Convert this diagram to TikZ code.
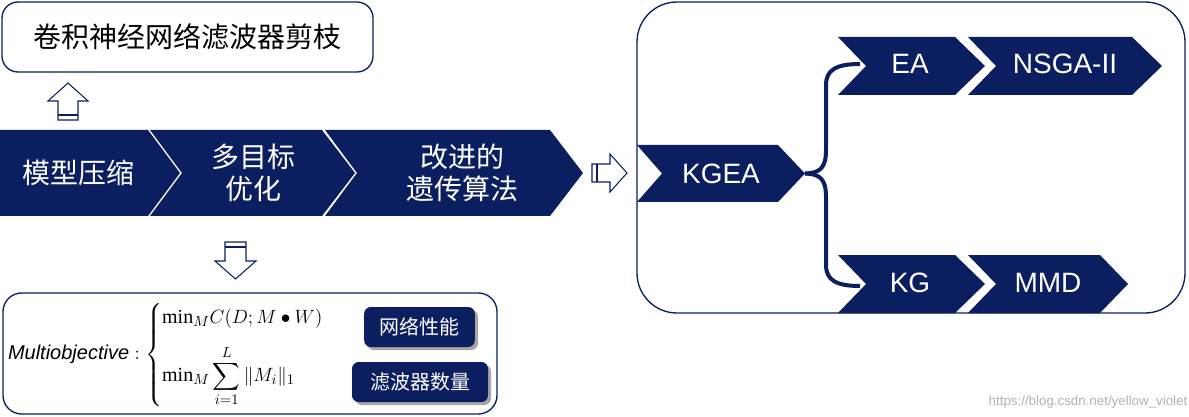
\documentclass[tikz,border=0pt]{standalone}
\usepackage{amsmath}
\usepackage{fontspec}
\setmainfont{Liberation Sans}
\newfontfamily\cjk{Noto Sans CJK SC}
\newfontfamily\serif{Liberation Serif}
\newcommand{\mymin}{\text{\serif min}}
\definecolor{navy}{HTML}{0B1F60}
\begin{document}
\begin{tikzpicture}[x=0.75pt,y=-0.75pt,
  chev/.style={fill=navy,draw=none},
  lab/.style={text=white,font=\cjk\fontsize{21}{24}\selectfont,align=center},
  elab/.style={text=white,font=\fontsize{21}{24}\selectfont},
  frame/.style={draw=navy,line width=1pt,fill=white},
  barrow/.style={draw=navy,line width=0.8pt,fill=white},
  shad/.style={fill=black!35,rounded corners=5pt},
  tag/.style={fill=navy,rounded corners=5pt,text=white,font=\cjk\fontsize{15}{17}\selectfont,inner sep=0pt,minimum height=30pt}]
\useasboundingbox (0,0) rectangle (1189,417);
% top box
\draw[frame,rounded corners=12pt] (2,2) rectangle (373,72);
\node[font=\cjk\fontsize{21}{24}\selectfont,text=black] (title) at (187.5,37) {卷积神经网络滤波器剪枝};
% chevrons
\fill[chev] (0,130) -- (148,130) -- (180,173) -- (148,216) -- (0,216) -- cycle;
\fill[chev] (150,130) -- (322,130) -- (355,173) -- (322,216) -- (150,216) -- (182,173) -- cycle;
\fill[chev] (325,130) -- (550,130) -- (583,173) -- (550,216) -- (325,216) -- (357,173) -- cycle;
\node[lab] (c1) at (78,173) {模型压缩};
\node[lab] (c2) at (253,173) {多目标\\优化};
\node[lab] (c3) at (462,173) {改进的\\遗传算法};
% up arrow
\draw[barrow] (58,120) -- (58,101) -- (48,101) -- (68,83) -- (88,101) -- (78,101) -- (78,120) -- cycle;
\draw[navy,line width=0.8pt] (58,115) -- (78,115);
% down arrow
\draw[barrow] (225,242) -- (246,242) -- (246,261) -- (256,261) -- (235.5,279) -- (215,261) -- (225,261) -- cycle;
\draw[navy,line width=0.8pt] (225,247) -- (246,247);
% right arrow
\draw[barrow] (592,164) -- (610,164) -- (610,154) -- (627,173) -- (610,192) -- (610,182) -- (592,182) -- cycle;
\draw[navy,line width=0.8pt] (597,164) -- (597,182);
% big box
\draw[frame,rounded corners=30pt] (637,2) rectangle (1185,313);
\fill[chev] (637,145) -- (778,145) -- (805,173.5) -- (778,202) -- (637,202) -- (662,173.5) -- cycle;
\node[elab] (kgea) at (721,174) {KGEA};
\fill[chev] (838,37) -- (955,37) -- (985,66) -- (955,95) -- (838,95) -- (866,66) -- cycle;
\fill[chev] (968,37) -- (1132,37) -- (1162,66) -- (1132,95) -- (968,95) -- (996,66) -- cycle;
\fill[chev] (838,255) -- (955,255) -- (985,284) -- (955,313) -- (838,313) -- (866,284) -- cycle;
\fill[chev] (968,255) -- (1100,255) -- (1128,284) -- (1100,313) -- (968,313) -- (996,284) -- cycle;
\node[elab] (ea) at (910,64) {EA};
\node[elab] (ns) at (1065,64) {NSGA-II};
\node[elab] (kg) at (910,283) {KG};
\node[elab] (mmd) at (1048,283) {MMD};
% brace
\coordinate (bt) at (805,173.5);
\draw[navy,line width=3pt] (bt) .. controls (820,173) and (826,168) .. (826,150) -- (826,85) .. controls (826,70) and (836,64) .. (860,64);
\draw[navy,line width=3pt] (bt) .. controls (820,174) and (826,179) .. (826,197) -- (826,265) .. controls (826,280) and (836,286) .. (860,286);
% bottom box
\draw[frame,rounded corners=14pt] (3,293) rectangle (497,414);
\node[font=\fontsize{15}{18}\selectfont,text=black,inner sep=0pt] (f) at (176,355) {$\mathit{Multiobjective}:\begin{cases}\mymin_{M} C(D;M\bullet W)\\[10pt] \mymin_{M}\displaystyle\sum_{i=1}^{L}\|M_i\|_1\end{cases}$};
\fill[shad] (367,310) rectangle (478,350);
\fill[shad] (355,365) rectangle (491,405);
\node[tag,minimum width=83pt] (t1) at (419.5,327) {网络性能};
\node[tag,minimum width=102pt] (t2) at (420,382) {滤波器数量};
\node[font=\fontsize{10}{12}\selectfont,text=black!30] (wm) at (1088,402) {https://blog.csdn.net/yellow\_violet};
\end{tikzpicture}
\end{document}
